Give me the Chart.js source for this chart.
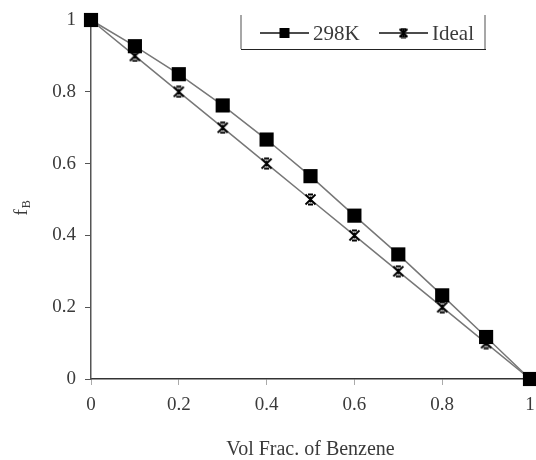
<!DOCTYPE html>
<html>
<head>
<meta charset="utf-8">
<script src="https://cdn.jsdelivr.net/npm/chart.js@4/dist/chart.umd.min.js"></script>
<style>
  html, body { margin: 0; padding: 0; background: #fff; }
  #wrap { width: 536px; height: 460px; }
</style>
</head>
<body>
<div id="wrap"><canvas id="fbChart" width="536" height="460"></canvas></div>
<script>
// volume fraction of benzene vs f_B
const volFrac = [0, 0.1, 0.2, 0.3, 0.4, 0.5, 0.6, 0.7, 0.8, 0.9, 1];
const fb298K = [1, 0.927, 0.849, 0.762, 0.667, 0.565, 0.455, 0.347, 0.233, 0.117, 0];
const fbIdeal = [1, 0.9, 0.8, 0.7, 0.6, 0.5, 0.4, 0.3, 0.2, 0.1, 0];
const seriesNames = ['298K', 'Ideal'];

const serif = "'Liberation Serif', 'DejaVu Serif', serif";
const textColor = '#3a3a3a';
const lineColor = '#777';

// Excel-style star marker: an X with short bars top and bottom
const makeStar = (size) => {
    const c = document.createElement('canvas');
    c.width = size; c.height = size;
    const g = c.getContext('2d');
    g.strokeStyle = '#000';
    g.lineWidth = 1.8;
    const p = 1.5, q = size - 1.5, m = size / 2;
    g.beginPath();
    g.moveTo(p, p); g.lineTo(q, q);
    g.moveTo(q, p); g.lineTo(p, q);
    g.moveTo(m - 2.5, p); g.lineTo(m + 2.5, p);
    g.moveTo(m - 2.5, q); g.lineTo(m + 2.5, q);
    g.moveTo(m, m - 3); g.lineTo(m, m + 3);
    g.stroke();
    return c;
};
const starIcon = makeStar(13);
const starSmall = makeStar(11);

const toPoints = ys => volFrac.map((x, i) => ({ x: x, y: ys[i] }));
const plainNum = v => String(Number(v.toFixed(2)));

// legend box in the top-right corner: line, marker, label
const legendBox = {
    id: 'legendBox',
    afterDraw(chart) {
        const ctx = chart.ctx;
        ctx.save();
        ctx.strokeStyle = '#8a8a8a';
        ctx.lineWidth = 1.5;
        ctx.beginPath();
        ctx.moveTo(241, 15); ctx.lineTo(241, 49);
        ctx.moveTo(485, 15); ctx.lineTo(485, 49);
        ctx.stroke();
        ctx.strokeStyle = '#222';
        ctx.lineWidth = 1.2;
        ctx.beginPath();
        ctx.moveTo(241, 49.5); ctx.lineTo(486, 49.5);
        ctx.stroke();

        const entries = [
            { x0: 260, x1: 309, tx: 313 },
            { x0: 379, x1: 428, tx: 432 }
        ];
        const y = 33;
        ctx.font = '21px ' + serif;
        ctx.textBaseline = 'middle';
        entries.forEach((e, i) => {
            ctx.strokeStyle = '#111';
            ctx.lineWidth = 1.5;
            ctx.beginPath();
            ctx.moveTo(e.x0, y); ctx.lineTo(e.x1, y);
            ctx.stroke();
            const mx = (e.x0 + e.x1) / 2;
            if (i === 0) {
                ctx.fillStyle = '#000';
                ctx.fillRect(mx - 5, y - 5, 10, 10);
            } else {
                ctx.drawImage(starSmall, mx - 5.5, y - 5.5);
            }
            ctx.fillStyle = textColor;
            ctx.fillText(chart.data.datasets[i].label, e.tx, y + 1);
        });
        ctx.restore();
    }
};

// rotated y-axis title with subscript: f_B
const yTitle = {
    id: 'yTitle',
    afterDraw(chart) {
        const ctx = chart.ctx;
        const area = chart.chartArea;
        ctx.save();
        ctx.translate(27, (area.top + area.bottom) / 2 + 16);
        ctx.rotate(-Math.PI / 2);
        ctx.fillStyle = textColor;
        ctx.textBaseline = 'alphabetic';
        ctx.font = '19px ' + serif;
        ctx.fillText('f', 0, 0);
        const w = ctx.measureText('f').width;
        ctx.font = '12px ' + serif;
        ctx.fillText('B', w + 1, 3);
        ctx.restore();
    }
};

new Chart(document.getElementById('fbChart').getContext('2d'), {
    type: 'scatter',
    data: {
        datasets: [
            {
                label: seriesNames[0],
                data: toPoints(fb298K),
                showLine: true,
                borderColor: lineColor,
                borderWidth: 1.5,
                pointStyle: 'rect',
                pointRadius: 10,
                pointBackgroundColor: '#000',
                pointBorderColor: '#000',
                pointBorderWidth: 0,
                clip: false,
                order: 1
            },
            {
                label: seriesNames[1],
                data: toPoints(fbIdeal),
                showLine: true,
                borderColor: lineColor,
                borderWidth: 1.5,
                pointStyle: starIcon,
                pointRadius: 6,
                clip: false,
                order: 2
            }
        ]
    },
    options: {
        responsive: false,
        animation: false,
        layout: { autoPadding: false, padding: { top: 20, right: 6, left: 0, bottom: 0 } },
        plugins: {
            legend: { display: false },
            tooltip: { enabled: false }
        },
        scales: {
            x: {
                min: 0, max: 1,
                afterFit: s => { s.height = 81; s.paddingLeft = 0; s.paddingRight = 0; },
                border: { color: '#333', width: 1.5 },
                grid: { drawOnChartArea: false, tickLength: 6, color: '#aaa' },
                ticks: { stepSize: 0.2, padding: 9, color: textColor, font: { family: serif, size: 19 }, maxRotation: 0, callback: plainNum },
                title: { display: true, text: 'Vol Frac. of Benzene', color: textColor, padding: 0, font: { family: serif, size: 20, lineHeight: 1 } }
            },
            y: {
                min: 0, max: 1,
                afterFit: s => { s.width = 91; s.paddingTop = 0; s.paddingBottom = 0; },
                border: { color: '#555', width: 1.5 },
                grid: { drawOnChartArea: false, tickLength: 6, color: '#555' },
                ticks: { stepSize: 0.2, padding: 9, color: textColor, font: { family: serif, size: 19 }, callback: plainNum }
            }
        }
    },
    plugins: [legendBox, yTitle]
});
</script>
</body>
</html>
